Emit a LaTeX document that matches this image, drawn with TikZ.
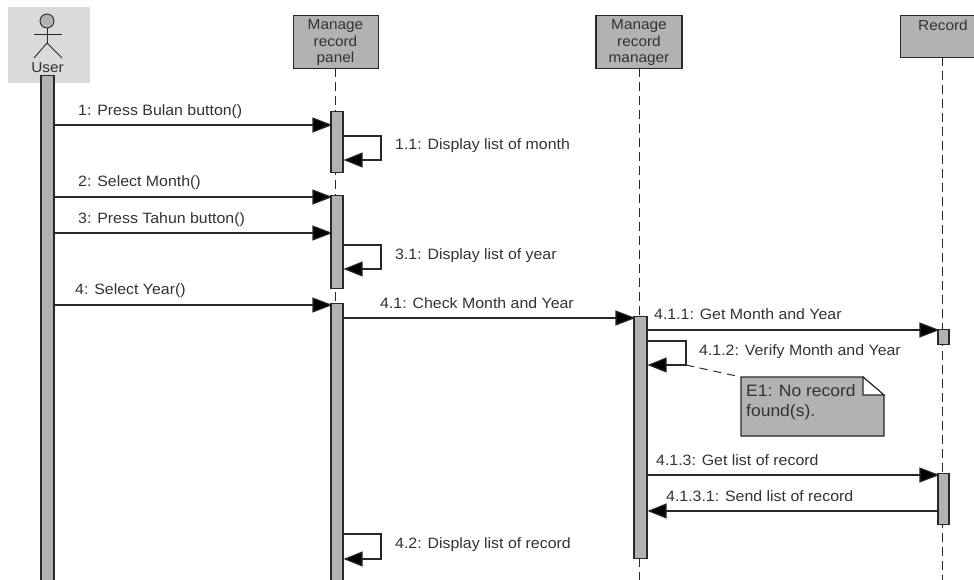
\documentclass[tikz,border=0pt]{standalone}
\usepackage{fontspec}
\setmainfont{Liberation Sans}[FakeStretch=1.06]
\usetikzlibrary{arrows.meta}
\definecolor{fillgray}{RGB}{178,178,178}
\definecolor{actorbg}{RGB}{218,218,218}
\definecolor{inkline}{RGB}{40,40,40}
\definecolor{inktext}{RGB}{50,50,50}
\tikzset{
  x=1pt,y=-1pt,
  objbox/.style={draw=inkline,line width=1.1pt,fill=fillgray,inner sep=0pt,minimum width=85pt,anchor=north},
  objtext/.style={font=\fontsize{14.5}{16.5}\selectfont,text=inktext,align=center,inner sep=0pt,anchor=north},
  act/.style={draw=inkline,line width=1.1pt,fill=fillgray,inner sep=0pt,anchor=north,minimum width=12pt},
  life/.style={draw=inkline,line width=1pt,dash pattern=on 9pt off 5pt},
  msg/.style={draw=inkline,line width=1.1pt,shorten >=-2pt,-{Triangle[length=20pt,width=15pt,fill=black]}},
  selfmsg/.style={draw=inkline,line width=1.1pt,-{Triangle[length=19pt,width=15pt,fill=black]}},
  lbl/.style={font=\fontsize{15}{17}\selectfont,text=inktext,anchor=west,inner sep=0pt,yshift=-1.5pt},
  actorline/.style={draw=inkline,line width=0.9pt}
}
\begin{document}
\begin{tikzpicture}
\useasboundingbox (0,0) rectangle (974,580);
% actor
\node[fill=actorbg,minimum width=82pt,minimum height=76pt,inner sep=0pt,anchor=north west] (actorbg) at (8,7) {};
\node[draw=inkline,fill=fillgray,line width=0.9pt,circle,minimum size=14pt,inner sep=0pt] (head) at (47,21) {};
\coordinate (hip) at (47,43);
\coordinate (armL) at (34,34);
\coordinate (armR) at (62,34);
\coordinate (legL) at (34,58);
\coordinate (legR) at (62,58);
\draw[actorline] (head.south) -- (hip);
\draw[actorline] (armL) -- (armR);
\draw[actorline] (legL) -- (hip) -- (legR);
\node[objtext,anchor=center] (user) at (47.5,67.5) {User};
% objects
\node[objbox,minimum height=53pt] (panel) at (336,15) {};
\node[objtext] (panelT) at (335.5,19.5) {Manage\\record\\panel};
\node[objbox,minimum height=53pt,minimum width=86pt] (manager) at (639,15) {};
\node[objtext] (managerT) at (639,19.5) {Manage\\record\\manager};
\node[objbox,minimum height=42pt,anchor=north west,minimum width=90pt] (record) at (900,15) {};
\node[objtext] (recordT) at (943,19.5) {Record};
% lifeline ends
\coordinate (panelEnd) at (335,580);
\coordinate (managerEnd) at (639,580);
\coordinate (recordEnd) at (942,580);
\draw[life] (335,68) coordinate (panelTop) -- (panelEnd);
\draw[life] (639,68) coordinate (managerTop) -- (managerEnd);
\draw[life] (942,57) coordinate (recordTop) -- (recordEnd);
% activations
\node[act,minimum width=13pt,minimum height=505pt] (uA) at (47.5,75) {};
\node[act,minimum height=61pt] (pA) at (337,111) {};
\node[act,minimum height=93pt] (pB) at (337,195) {};
\node[act,minimum height=277pt] (pC) at (337,303) {};
\node[act,minimum width=13pt,minimum height=242pt] (mA) at (640.5,316) {};
\node[act,minimum width=11pt,minimum height=15pt] (rA) at (943.5,329) {};
\node[act,minimum width=11pt,minimum height=51pt] (rB) at (943.5,473) {};
% messages
\draw[msg] (uA.east |- 0,125) -- (pA.west |- 0,125);
\draw[msg] (uA.east |- 0,197) -- (pB.west |- 0,197);
\draw[msg] (uA.east |- 0,233) -- (pB.west |- 0,233);
\draw[msg] (uA.east |- 0,305) -- (pC.west |- 0,305);
\draw[msg] (pC.east |- 0,318) -- (mA.west |- 0,318);
\draw[msg] (mA.east |- 0,330) -- (rA.west |- 0,330);
\draw[msg] (mA.east |- 0,475) -- (rB.west |- 0,475);
\draw[selfmsg] (rB.west |- 0,511) -- (mA.east |- 0,511);
% self messages
\draw[selfmsg] (pA.east |- 0,136) -| (381,160) -- (pA.east |- 0,160);
\draw[selfmsg] (pB.east |- 0,245) -| (381,269) -- (pB.east |- 0,269);
\draw[selfmsg] (pC.east |- 0,534) -| (381,559) -- (pC.east |- 0,559);
\draw[selfmsg] (mA.east |- 0,341) -| (686,365) coordinate (selfEnd) -- (mA.east |- 0,365);
% note
\node[inner sep=0pt,minimum width=143pt,minimum height=59pt,anchor=north west] (note) at (741,377) {};
\fill[fillgray] (note.north west) -- (863,377) -- (884,395) -- (note.east |- note.south) -- (note.south west) -- cycle;
\draw[inkline,line width=1.1pt] (note.north west) -- (863,377) -- (884,395) -- (884,436) -- (741,436) -- cycle;
\draw[inkline,line width=1.1pt,fill=white] (863,377) -- (884,395) -- (863,395) -- cycle;
\draw[inkline,line width=1pt,dash pattern=on 8pt off 6pt] (selfEnd) -- (note.north west);
\node[font=\fontsize{16.5}{20.5}\selectfont,text=inktext,align=left,anchor=north west,inner sep=0pt] (noteT) at (746,384) {E1: No record\\found(s).};
% labels
\node[lbl] (l1) at (78,110) {1: Press Bulan button()};
\node[lbl] (l11) at (395,144.5) {1.1: Display list of month};
\node[lbl] (l2) at (78,181.5) {2: Select Month()};
\node[lbl] (l3) at (78,218) {3: Press Tahun button()};
\node[lbl] (l31) at (395,254) {3.1: Display list of year};
\node[lbl] (l4) at (75,289) {4: Select Year()};
\node[lbl] (l41) at (380,302) {4.1: Check Month and Year};
\node[lbl] (l411) at (654,313) {4.1.1: Get Month and Year};
\node[lbl] (l412) at (699,350) {4.1.2: Verify Month and Year};
\node[lbl] (l413) at (656,459) {4.1.3: Get list of record};
\node[lbl] (l4131) at (666,495) {4.1.3.1: Send list of record};
\node[lbl] (l42) at (395,543.5) {4.2: Display list of record};
\end{tikzpicture}
\end{document}
